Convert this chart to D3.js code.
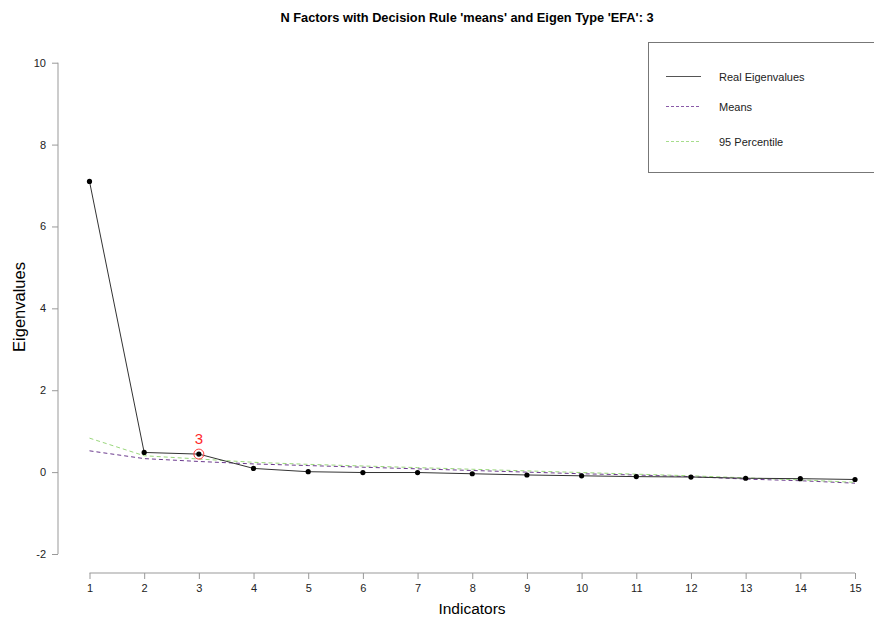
<!DOCTYPE html>
<html>
<head>
<meta charset="utf-8">
<script src="https://cdn.jsdelivr.net/npm/d3@7"></script>
<style>
  body { margin: 0; background: #fff; }
  svg { font-family: "Liberation Sans", Arial, sans-serif; }
</style>
</head>
<body>
<svg id="chart"></svg>
<script>
// values
const indicators = [1, 2, 3, 4, 5, 6, 7, 8, 9, 10, 11, 12, 13, 14, 15];
const realEigen = [7.10, 0.48, 0.44, 0.09, 0.01, -0.01, -0.01, -0.04, -0.07, -0.09, -0.11, -0.12, -0.15, -0.16, -0.18];
const meansEigen = [0.52, 0.33, 0.26, 0.20, 0.16, 0.12, 0.08, 0.04, 0.00, -0.04, -0.07, -0.11, -0.17, -0.21, -0.27];
const pctEigen = [0.83, 0.40, 0.32, 0.24, 0.19, 0.15, 0.11, 0.07, 0.03, -0.01, -0.05, -0.09, -0.14, -0.19, -0.25];
const yTicks = [-2, 0, 2, 4, 6, 8, 10];
const nFactors = 3;
const legendLabels = ["Real Eigenvalues", "Means", "95 Percentile"];

const W = 874, H = 618;
const svg = d3.select("#chart").attr("width", W).attr("height", H);

const x = d3.scaleLinear().domain([1, 15]).range([89.5, 855]);
const y = d3.scaleLinear().domain([-2, 10]).range([554, 62.7]);

// title
svg.append("text")
  .attr("x", 467).attr("y", 22)
  .attr("text-anchor", "middle")
  .attr("font-size", 12.8).attr("font-weight", "bold")
  .text("N Factors with Decision Rule 'means' and Eigen Type 'EFA': 3");

// axes
const yAxis = svg.append("g")
  .attr("transform", "translate(58,0)")
  .call(d3.axisLeft(y).tickValues(yTicks).tickFormat(d => String(d)).tickSize(6).tickPadding(6));
const xAxis = svg.append("g")
  .attr("transform", "translate(0,573)")
  .call(d3.axisBottom(x).tickValues(indicators).tickFormat(d => String(d)).tickSize(6).tickPadding(5));
[xAxis, yAxis].forEach(g => {
  g.select(".domain").attr("stroke", "#999");
  g.selectAll(".tick line").attr("stroke", "#999");
  g.selectAll(".tick text").attr("fill", "#222").attr("font-size", 11)
    .attr("font-family", "Liberation Sans, Arial, sans-serif");
});
// R-style axis: domain without end caps
yAxis.select(".domain").attr("d", `M0,${y(-2)}V${y(10)}`);
xAxis.select(".domain").attr("d", `M${x(1)},0H${x(15)}`);

svg.append("text")
  .attr("x", 472).attr("y", 614)
  .attr("text-anchor", "middle").attr("font-size", 15.5)
  .text("Indicators");
svg.append("text")
  .attr("transform", "translate(25,307) rotate(-90)")
  .attr("text-anchor", "middle").attr("font-size", 16.5)
  .text("Eigenvalues");

const line = d3.line().x((d, i) => x(indicators[i])).y(d => y(d));

svg.append("path").datum(meansEigen)
  .attr("fill", "none").attr("stroke", "#6b3a8e").attr("stroke-width", 1)
  .attr("stroke-dasharray", "4,3").attr("d", line);
svg.append("path").datum(pctEigen)
  .attr("fill", "none").attr("stroke", "#9ad77c").attr("stroke-width", 1)
  .attr("stroke-dasharray", "4,3").attr("d", line);
svg.append("path").datum(realEigen)
  .attr("fill", "none").attr("stroke", "#333").attr("stroke-width", 1)
  .attr("d", line);

svg.append("g").selectAll("circle")
  .data(realEigen)
  .join("circle")
  .attr("cx", (d, i) => x(indicators[i]))
  .attr("cy", d => y(d))
  .attr("r", 2.6)
  .attr("fill", "#000");

// mark the chosen number of factors
const nf = realEigen[nFactors - 1];
svg.append("circle")
  .attr("cx", x(nFactors)).attr("cy", y(nf)).attr("r", 5)
  .attr("fill", "none").attr("stroke", "#ff3b3b").attr("stroke-width", 1);
svg.append("text")
  .attr("x", x(nFactors)).attr("y", y(nf) - 10)
  .attr("text-anchor", "middle").attr("font-size", 15).attr("fill", "#ff2a2a")
  .text(nFactors);

// legend
const lg = svg.append("g");
lg.append("rect")
  .attr("x", 648.5).attr("y", 42.5).attr("width", 240).attr("height", 130)
  .attr("fill", "#fff").attr("stroke", "#777");
const legStyles = [
  { stroke: "#555", dash: null },
  { stroke: "#8a5aa8", dash: "3,2" },
  { stroke: "#a6dd8c", dash: "3,2" }
];
const legY = [76.5, 106.5, 141.5];
legendLabels.forEach((lab, i) => {
  lg.append("line")
    .attr("x1", 666).attr("x2", 701).attr("y1", legY[i]).attr("y2", legY[i])
    .attr("stroke", legStyles[i].stroke).attr("stroke-width", 1)
    .attr("stroke-dasharray", legStyles[i].dash);
  lg.append("text")
    .attr("x", 719).attr("y", legY[i] + 4)
    .attr("font-size", 11).attr("fill", "#222")
    .text(lab);
});
</script>
</body>
</html>
